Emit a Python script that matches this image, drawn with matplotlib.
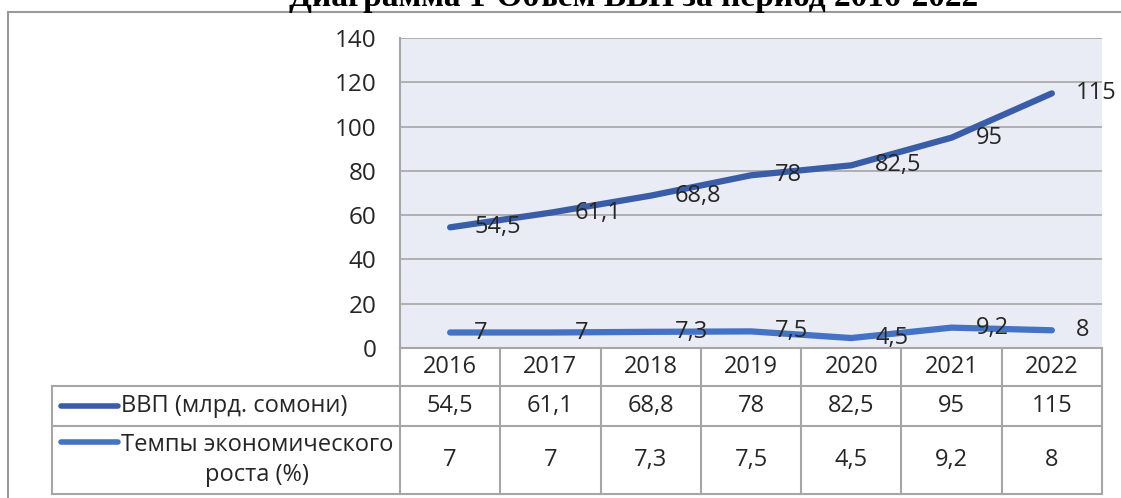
import numpy as np
import matplotlib.pyplot as plt
from matplotlib.lines import Line2D

# ---- данные ----
years = ['2016', '2017', '2018', '2019', '2020', '2021', '2022']
vvp = [54.5, 61.1, 68.8, 78, 82.5, 95, 115]
tempy = [7, 7, 7.3, 7.5, 4.5, 9.2, 8]
series_names = ['ВВП (млрд. сомони)', 'Темпы экономического\nроста (%)']
title = 'Диаграмма 1-Объем ВВП за период 2016-2022'
yticks = list(range(0, 141, 20))

vvp_color = '#3A5DA8'
tempy_color = '#4472C4'
grid_color = '#A6A6A6'
bg_color = '#E9EBF5'
txt_color = '#262626'
fs = 17

def fmt(v):
    return ('%g' % v).replace('.', ',')

plt.rcParams['font.family'] = ['Open Sans', 'DejaVu Sans']

W, H = 1121, 498
fig = plt.figure(figsize=(W / 100, H / 100), dpi=100)

# posiciones en pixeles
px_left, px_right = 400, 1102
px_top, px_zero = 38, 348
tab_left = 52
rows = [348, 386, 426, 494]

ax = fig.add_axes([px_left / W, 1 - px_zero / H, (px_right - px_left) / W, (px_zero - px_top) / H])
ax.set_facecolor(bg_color)
x = np.arange(len(years))
ax.plot(x, vvp, color=vvp_color, lw=4.5, solid_capstyle='round', solid_joinstyle='round', zorder=3)
ax.plot(x, tempy, color=tempy_color, lw=4.5, solid_capstyle='round', solid_joinstyle='round', zorder=3)
for xi, v in zip(x, vvp):
    ax.annotate(fmt(v), (xi, v), xytext=(24, 0), textcoords='offset pixels',
                ha='left', va='center', fontsize=fs, color=txt_color, zorder=4)
for xi, v in zip(x, tempy):
    ax.annotate(fmt(v), (xi, v), xytext=(24, 0), textcoords='offset pixels',
                ha='left', va='center', fontsize=fs, color=txt_color, zorder=4)

ax.set_xlim(-0.5, len(years) - 0.5)
ax.set_ylim(0, 140)
ax.set_yticks(yticks)
ax.set_yticklabels([str(t) for t in yticks], fontsize=17.5, color=txt_color)
ax.set_xticks([])
ax.tick_params(axis='y', length=0, pad=17)
ax.grid(axis='y', color=grid_color, lw=1.2)
ax.set_axisbelow(True)
for s in ['top', 'right', 'bottom']:
    ax.spines[s].set_visible(False)
ax.spines['left'].set_color(grid_color)
ax.spines['left'].set_linewidth(1.5)

# ---- tabla de datos ----
tab = fig.add_axes([0, 0, 1, 1], facecolor='none')
tab.set_xlim(0, W)
tab.set_ylim(H, 0)
tab.axis('off')
colw = (px_right - px_left) / len(years)
edges = [px_left + k * colw for k in range(len(years) + 1)]
lkw = dict(color=grid_color, lw=1.5)
tab.plot([px_left, px_right], [rows[0], rows[0]], **lkw)
for yy in rows[1:]:
    tab.plot([tab_left, px_right], [yy, yy], **lkw)
for e in edges:
    tab.plot([e, e], [rows[0], rows[-1]], **lkw)
tab.plot([tab_left, tab_left], [rows[1], rows[-1]], **lkw)

for k, yr in enumerate(years):
    cx = (edges[k] + edges[k + 1]) / 2
    tab.text(cx, (rows[0] + rows[1]) / 2, yr, ha='center', va='center', fontsize=fs, color=txt_color)
    tab.text(cx, (rows[1] + rows[2]) / 2, fmt(vvp[k]), ha='center', va='center', fontsize=fs, color=txt_color)
    tab.text(cx, (rows[2] + rows[3]) / 2, fmt(tempy[k]), ha='center', va='center', fontsize=fs, color=txt_color)

# leyenda dentro de la tabla
key_y = [(rows[1] + rows[2]) / 2, rows[2] + 16]
for name, c, ky, (r0, r1) in zip(series_names, [vvp_color, tempy_color], key_y,
                                 [(rows[1], rows[2]), (rows[2], rows[3])]):
    tab.add_line(Line2D([61, 118], [ky, ky], color=c, lw=4, solid_capstyle='round'))
    tab.text(121, (r0 + r1) / 2, name, ha='left', va='center', fontsize=fs,
             color=txt_color, multialignment='center', linespacing=1.3)

# marco del gráfico y título cortado
tab.plot([8, W], [12, 12], color='#9A9A9A', lw=1.5)
tab.plot([8, 8], [12, H], color='#9A9A9A', lw=1.5)
tab.text(634, 6, title, ha='center', va='baseline', fontsize=24, fontweight='bold',
         family='Liberation Serif', color='black')

fig.savefig('out.png', dpi=100)
